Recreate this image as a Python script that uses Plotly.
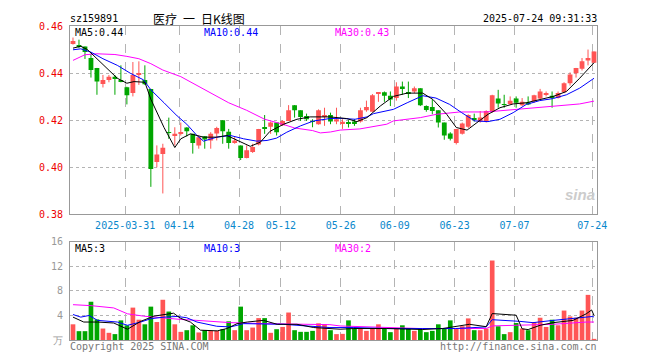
import plotly.graph_objects as go

# ---------------- data ----------------
opens = [0.4524,0.4519,0.4513,0.4464,0.4422,0.4354,0.4371,0.4385,0.4371,0.4340,
         0.4315,0.4392,0.4371,0.4333,0.4022,0.4056,0.4149,0.4135,0.4142,0.4169,
         0.4142,0.4093,0.4132,0.4114,0.4144,0.4200,0.4151,0.4103,0.4093,0.4040,
         0.4065,0.4097,0.4169,0.4172,0.4190,0.4179,0.4197,0.4264,0.4242,0.4218,
         0.4196,0.4183,0.4214,0.4222,0.4194,0.4186,0.4189,0.4194,0.4194,0.4242,
         0.4236,0.4315,0.4319,0.4304,0.4294,0.4343,0.4318,0.4322,0.4336,0.4260,
         0.4256,0.4242,0.4190,0.4144,0.4103,0.4142,0.4172,0.4208,0.4194,0.4194,
         0.4236,0.4292,0.4269,0.4269,0.4292,0.4264,0.4276,0.4281,0.4292,0.4308,
         0.4304,0.4294,0.4319,0.4357,0.4399,0.4419,0.4454,0.4444]
highs = [0.4551,0.4542,0.4513,0.4482,0.4422,0.4392,0.4392,0.4392,0.4433,0.4342,
         0.4447,0.4450,0.4433,0.4333,0.4093,0.4100,0.4211,0.4170,0.4190,0.4170,
         0.4142,0.4135,0.4132,0.4149,0.4172,0.4200,0.4163,0.4128,0.4093,0.4093,
         0.4100,0.4163,0.4222,0.4194,0.4190,0.4200,0.4264,0.4264,0.4242,0.4228,
         0.4204,0.4246,0.4253,0.4232,0.4253,0.4204,0.4200,0.4204,0.4253,0.4283,
         0.4311,0.4319,0.4322,0.4322,0.4361,0.4364,0.4364,0.4343,0.4336,0.4263,
         0.4288,0.4242,0.4190,0.4149,0.4163,0.4190,0.4225,0.4228,0.4239,0.4242,
         0.4308,0.4329,0.4308,0.4301,0.4301,0.4294,0.4301,0.4308,0.4333,0.4322,
         0.4322,0.4322,0.4361,0.4403,0.4422,0.4464,0.4500,0.4492]
lows = [0.4521,0.4506,0.4460,0.4381,0.4308,0.4339,0.4361,0.4308,0.4361,0.4267,
        0.4301,0.4350,0.4350,0.3917,0.4000,0.3889,0.4121,0.4093,0.4135,0.4131,
        0.4058,0.4079,0.4079,0.4079,0.4114,0.4100,0.4079,0.4100,0.4031,0.4038,
        0.4061,0.4093,0.4142,0.4142,0.4135,0.4176,0.4197,0.4211,0.4197,0.4197,
        0.4170,0.4181,0.4176,0.4183,0.4183,0.4163,0.4169,0.4176,0.4190,0.4236,
        0.4236,0.4278,0.4278,0.4260,0.4283,0.4308,0.4294,0.4315,0.4260,0.4236,
        0.4225,0.4169,0.4117,0.4114,0.4097,0.4139,0.4167,0.4194,0.4190,0.4190,
        0.4232,0.4253,0.4253,0.4267,0.4253,0.4260,0.4264,0.4274,0.4288,0.4301,
        0.4253,0.4292,0.4315,0.4347,0.4381,0.4411,0.4433,0.4444]
closes = [0.4536,0.4513,0.4490,0.4413,0.4364,0.4371,0.4385,0.4378,0.4364,0.4306,
          0.4392,0.4399,0.4353,0.3993,0.4054,0.4083,0.4147,0.4142,0.4149,0.4153,
          0.4103,0.4128,0.4118,0.4142,0.4167,0.4153,0.4103,0.4114,0.4040,0.4072,
          0.4086,0.4163,0.4163,0.4190,0.4149,0.4197,0.4242,0.4242,0.4214,0.4204,
          0.4194,0.4242,0.4221,0.4194,0.4204,0.4193,0.4186,0.4186,0.4242,0.4256,
          0.4306,0.4319,0.4304,0.4288,0.4343,0.4336,0.4315,0.4336,0.4263,0.4243,
          0.4239,0.4190,0.4135,0.4121,0.4163,0.4186,0.4222,0.4204,0.4211,0.4239,
          0.4306,0.4271,0.4267,0.4283,0.4274,0.4278,0.4267,0.4306,0.4322,0.4315,
          0.4297,0.4315,0.4357,0.4394,0.4422,0.4450,0.4464,0.4492]
volumes = [2.56,1.44,1.44,6.24,3.36,1.87,1.17,0.96,3.20,2.40,
           5.28,3.31,2.56,5.44,2.93,6.56,4.64,2.56,1.33,1.60,
           2.40,1.23,1.60,1.49,1.49,1.76,3.04,1.60,5.44,1.60,
           2.03,3.57,3.57,1.17,1.76,2.13,4.48,1.60,1.33,1.33,
           1.49,2.72,2.56,1.60,0.96,1.00,3.20,1.87,1.87,1.49,
           1.87,2.56,1.87,1.28,1.87,2.40,1.87,1.49,1.76,1.28,
           1.49,2.56,1.87,3.20,1.87,2.24,3.52,1.60,1.60,1.87,
           12.96,2.24,0.96,1.28,2.77,1.87,1.60,2.93,3.63,2.13,
           3.31,2.40,4.80,3.84,3.63,4.80,7.36,0.16]

# moving-average lines (position in candles, value)
ma5_x = [0,1.3,2.4,4,5.7,7.4,9,10.2,12,13,15.2,17,18,19.6,21.8,24,25.7,27.4,29.6,31.3,
         32.9,35.2,37.4,39.6,42.9,45.7,47.4,49.1,51.3,53.5,55.8,58.4,60.1,62.4,64,65.8,
         67.1,69.3,71.3,73.5,75.7,77.9,80.2,82.4,84.6,87]
ma5_y = [0.4506,0.4514,0.4500,0.4461,0.4419,0.4378,0.4357,0.4364,0.4361,0.4289,0.4169,
         0.4084,0.4121,0.4142,0.4128,0.4128,0.4135,0.4114,0.4089,0.4107,0.4153,0.4183,
         0.4204,0.4214,0.4214,0.4207,0.4194,0.4211,0.4260,0.4301,0.4315,0.4315,0.4288,
         0.4225,0.4169,0.4158,0.4183,0.4225,0.4253,0.4269,0.4274,0.4288,0.4301,0.4322,
         0.4378,0.4444]
ma10_x = [0,1.3,3,5,7.4,9.6,11.8,13,15.2,17.4,19,20.7,21.8,24,26.3,28.5,30.7,32.4,34,
          35.7,38,40.2,42.9,44.6,47.1,49.1,50.2,53.5,55.8,58.4,60.6,62.9,64.9,67.1,
          69.3,71.3,73.5,75.7,77.9,80.2,82.4,84.6,87]
ma10_y = [0.4499,0.4503,0.4489,0.4461,0.4433,0.4399,0.4371,0.4329,0.4274,0.4218,0.4183,
          0.4135,0.4111,0.4128,0.4135,0.4121,0.4111,0.4114,0.4124,0.4149,0.4176,0.4197,
          0.4207,0.4208,0.4204,0.4214,0.4228,0.4246,0.4274,0.4304,0.4294,0.4267,0.4232,
          0.4197,0.4194,0.4204,0.4232,0.4267,0.4283,0.4292,0.4308,0.4336,0.4378]
ma30_x = [0,2,4,7,9,11,13,15,18,21,23.5,26,29,32,35,37,40,41.3,43,44.6,47.9,52.4,53.5,
          58,60.7,64.6,69,72.4,77.4,80.2,84.6,87]
ma30_y = [0.4454,0.4478,0.4482,0.4479,0.4471,0.4461,0.4440,0.4413,0.4385,0.4343,0.4308,
          0.4274,0.4242,0.4204,0.4183,0.4167,0.4156,0.4146,0.4150,0.4158,0.4163,0.4183,
          0.4197,0.4211,0.4225,0.4235,0.4235,0.4242,0.4253,0.4260,0.4269,0.4281]

vma5_x = [0,1.8,4.1,6.8,9.1,11.3,13.5,15.7,16.8,17.9,19.6,21.3,24.1,25.7,27.4,29.1,31.8,
          34.1,37.4,40.2,42.9,44.6,46.9,52.4,58.4,61.7,66.2,68.4,69,70,74,75,76,78,80.2,
          83.5,85.7,86.6,87]
vma5_y = [3.73,2.93,2.93,2.77,1.76,3.04,3.89,4.27,4.37,3.57,2.93,1.60,1.49,1.87,2.67,
          2.93,3.20,2.56,2.56,2.03,1.87,1.76,1.87,1.87,1.71,1.87,2.56,2.24,2.17,4.31,
          4.04,1.82,1.70,2.40,2.83,3.20,4.27,4.90,4.00]
vma10_x = [0,1.3,2.7,4.1,7.4,9.1,11.3,13,15.2,17.4,19,20.7,24,26.3,28.5,31.8,35.2,37.4,
           40.7,42.9,46.9,52.4,58.4,63.9,69,70,74.6,76.8,80.2,84.6,86.8,87]
vma10_y = [4.16,3.73,4.00,3.20,2.93,2.40,2.93,3.47,3.73,3.84,3.63,2.93,2.24,2.13,2.67,
           2.67,2.56,2.40,2.13,2.03,2.03,1.87,1.87,1.87,2.13,3.31,3.04,2.83,3.20,3.57,
           3.84,3.73]
vma30_x = [0,3,6.8,9.1,11.8,15.2,17.9,20.7,26.3,31.8,37.4,42.9,44.6,52.4,58,63.9,69,70,
           74,80.2,85.7,87]
vma30_y = [5.76,5.60,5.23,4.27,3.89,3.57,3.36,3.20,2.83,2.67,2.56,2.50,2.29,2.03,1.87,
           1.87,1.87,2.30,2.40,2.56,2.93,2.93]

tick_idx = [9, 18, 28, 35, 45, 54, 64, 74, 87]
tick_labels = ["2025-03-31", "04-14", "04-28", "05-12", "05-26",
               "06-09", "06-23", "07-07", "07-24"]

code = "sz159891"
title = "医疗\u2002一\u2002日K线图"
stamp = "2025-07-24 09:31:33"
ma_price_labels = ["MA5:0.44", "MA10:0.44", "MA30:0.43"]
ma_vol_labels = ["MA5:3", "MA10:3", "MA30:2"]

# ---------------- styling ----------------
RED = "#ff5555"
GREEN = "#00a600"
MONO = "DejaVu Sans Mono, Liberation Mono, monospace"
n = len(closes)
idx = list(range(n))
colors = [RED if c >= o else GREEN for o, c in zip(opens, closes)]

fig = go.Figure()

# wicks
for col in (RED, GREEN):
    wx, wy = [], []
    for i in idx:
        if colors[i] == col:
            wx += [i, i, None]
            wy += [lows[i], highs[i], None]
    fig.add_trace(go.Scatter(x=wx, y=wy, mode="lines", line=dict(color=col, width=1),
                             xaxis="x", yaxis="y", hoverinfo="skip", showlegend=False))

# bodies
body_h = [max(abs(c - o), 0.00025) for o, c in zip(opens, closes)]
body_b = [min(o, c) - (0.000125 if abs(c - o) < 0.00025 else 0) for o, c in zip(opens, closes)]
fig.add_trace(go.Bar(x=idx, y=body_h, base=body_b, width=0.8, marker=dict(color=colors, line=dict(width=0)),
                     xaxis="x", yaxis="y", hoverinfo="skip", showlegend=False))

# price MAs
for xs, ys, col in ((ma30_x, ma30_y, "#ff00ff"), (ma10_x, ma10_y, "#0000ff"), (ma5_x, ma5_y, "#000000")):
    fig.add_trace(go.Scatter(x=xs, y=ys, mode="lines", line=dict(color=col, width=1),
                             xaxis="x", yaxis="y", hoverinfo="skip", showlegend=False))

# volume bars
fig.add_trace(go.Bar(x=idx, y=volumes, width=0.78, marker=dict(color=colors, line=dict(width=0)),
                     xaxis="x2", yaxis="y2", hoverinfo="skip", showlegend=False))
for xs, ys, col in ((vma30_x, vma30_y, "#ff00ff"), (vma10_x, vma10_y, "#0000ff"), (vma5_x, vma5_y, "#000000")):
    fig.add_trace(go.Scatter(x=xs, y=ys, mode="lines", line=dict(color=col, width=1),
                             xaxis="x2", yaxis="y2", hoverinfo="skip", showlegend=False))

# plot area in page pixels; the page body adds an 8px offset
OFF = 8
L, R, T, B = 70, 597, 20, 340
FW, FH = 660 - OFF, 360 - OFF
def px(X, Y):
    return (X - L) / (R - L), (B - Y) / (B - T)

common_x = dict(range=[-0.5, n - 0.5], tickmode="array", tickvals=[t - 0.28 for t in tick_idx],
                showgrid=True, gridcolor="#b4b4b4", griddash="dash", gridwidth=1,
                showline=True, linecolor="#999999", linewidth=1, mirror=True,
                zeroline=False, ticks="", fixedrange=True)

fig.update_layout(
    width=FW, height=FH,
    margin=dict(l=L - OFF, r=FW - (R - OFF), t=T - OFF, b=FH - (B - OFF)),
    paper_bgcolor="white", plot_bgcolor="white",
    barmode="overlay", showlegend=False,
    font=dict(family=MONO, size=10, color="#000"),
    xaxis=dict(common_x, domain=[0, 1], anchor="y", ticktext=tick_labels,
               tickfont=dict(family=MONO, size=10, color="#0a88cc"), ticklabelstandoff=2),
    yaxis=dict(domain=[px(0, 212)[1], 1], range=[0.38, 0.46], tickmode="array",
               tickvals=[0.38, 0.40, 0.42, 0.44, 0.46],
               ticktext=["0.38", "0.40", "0.42", "0.44", "0.46"],
               tickfont=dict(family=MONO, size=10, color="#ee0000"),
               showgrid=True, gridcolor="#b4b4b4", griddash="dot",
               showline=True, linecolor="#999999", mirror=True, zeroline=False, ticks="",
               ticklabelstandoff=4, fixedrange=True),
    xaxis2=dict(common_x, domain=[0, 1], anchor="y2", showticklabels=False,
                ticktext=[""] * len(tick_idx)),
    yaxis2=dict(domain=[0, px(0, 240)[1]], range=[0, 16], tickmode="array",
                tickvals=[0, 4, 8, 12, 16], ticktext=["万", "4", "8", "12", "16"],
                tickfont=dict(family=MONO, size=10, color="#999999"),
                showgrid=True, gridcolor="#b4b4b4", griddash="dot",
                showline=True, linecolor="#999999", mirror=True, zeroline=False, ticks="",
                ticklabelstandoff=4, fixedrange=True),
)

ann = []
def text(X, Y, s, color="#000", anchor="left", size=10, family=MONO, **kw):
    x, y = px(X, Y)
    ann.append(dict(x=x, y=y, xref="paper", yref="paper", text=s, showarrow=False,
                    xanchor=anchor, yanchor="middle", borderpad=0,
                    font=dict(family=family, size=size, color=color), **kw))

text(69, 12.5, code)
text(199, 12, title, anchor="center", size=12, family="Noto Sans CJK SC")
text(598, 12.5, stamp, anchor="right")
text(74, 27, ma_price_labels[0], "#000000")
text(203, 27, ma_price_labels[1], "#0000ff")
text(334, 27, ma_price_labels[2], "#ff00ff")
text(74, 247, ma_vol_labels[0], "#000000")
text(203, 247, ma_vol_labels[1], "#0000ff")
text(334, 247, ma_vol_labels[2], "#ff00ff")
text(69, 347, "Copyright 2025 SINA.COM", "#777777")
text(598, 347, "http://finance.sina.com.cn", "#777777", anchor="right")
text(596, 192, "<b><i>sina</i></b>", "#cccccc", anchor="right", size=15, family="Liberation Sans")
fig.update_layout(annotations=ann)

fig.write_html("out.html")
